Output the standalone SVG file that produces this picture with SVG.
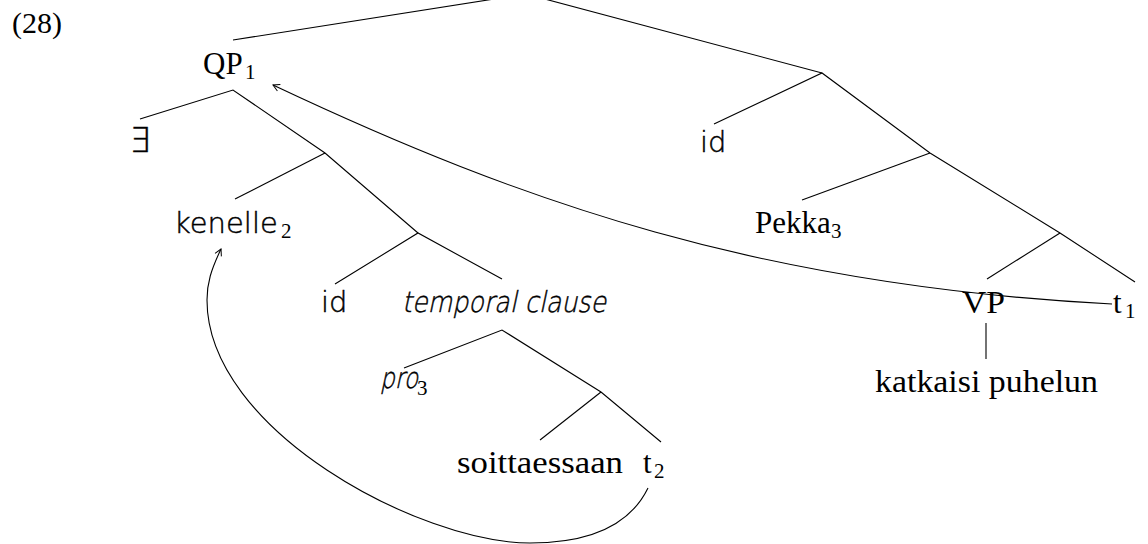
<svg xmlns="http://www.w3.org/2000/svg" width="1148" height="544" viewBox="0 0 1148 544">
<defs>
<style>
.rm{font-family:"Liberation Serif","Times New Roman",serif;font-size:31px;fill:#000}
.sub{font-family:"Liberation Serif","Times New Roman",serif;font-size:21px;fill:#000}
.sf{font-family:"DejaVu Sans","Liberation Sans",sans-serif;font-size:29px;font-weight:200;fill:#000;stroke:#000;stroke-width:0.45}
.ln{stroke:#000;stroke-width:1.1;fill:none}
</style>
<marker id="ah" viewBox="-8 -5 10 10" markerWidth="10" markerHeight="10" refX="0" refY="0" orient="auto" markerUnits="userSpaceOnUse">
<path d="M-6.5,-3.5 L0,0 L-6.5,3.5" fill="none" stroke="#000" stroke-width="1"/>
</marker>
</defs>
<rect width="1148" height="544" fill="#fff"/>
<text class="rm" x="12" y="33" style="font-size:30px">(28)</text>
<g id="connectors">
<path class="ln" d="M233,40 L526,-6 L822,73"/>
<path class="ln" d="M140,119 L233,90 L325,153 L418,233"/>
<path class="ln" d="M235,199 L325,153"/>
<path class="ln" d="M335,284 L418,233 L502,279"/>
<path class="ln" d="M404,368 L502,330 L601,392 L661,442"/>
<path class="ln" d="M540,440 L601,392"/>
<path class="ln" d="M714,124 L822,73 L930,153 L1060,233 L1135,282"/>
<path class="ln" d="M802,200 L930,153"/>
<path class="ln" d="M987,279 L1060,233"/>
<path class="ln" d="M986,323 L986,359"/>
<path class="ln" d="M1112,304 C762,286 523,203 273,85" marker-end="url(#ah)"/>
<path class="ln" d="M648,488 C630,525 590,543 530,543 C420,543 207,430 207,300 C207,283 211,270 221,249" marker-end="url(#ah)"/>
</g>
<g id="n-qp"><text class="rm" x="203" y="74">QP</text><text class="sub" x="245" y="79">1</text></g>
<g id="n-exists"><text class="sf" x="129" y="152" style="font-size:34px">∃</text></g>
<g id="n-kenelle"><text class="sf" x="174" y="233">kenelle</text><text class="sub" x="281" y="238">2</text></g>
<g id="n-id1"><text class="sf" x="321" y="312">id</text></g>
<g id="n-temporal"><g transform="translate(402,312) skewX(-12)"><text class="sf" x="0" y="0" textLength="204" lengthAdjust="spacingAndGlyphs">temporal clause</text></g></g>
<g id="n-pro"><g transform="translate(380,388) skewX(-12)"><text class="sf" x="0" y="0" textLength="38" lengthAdjust="spacingAndGlyphs">pro</text></g><text class="sub" x="417" y="395">3</text></g>
<g id="n-soitt"><text class="rm" x="457" y="473" textLength="166" lengthAdjust="spacingAndGlyphs">soittaessaan</text></g>
<g id="n-t2"><text class="rm" x="643" y="473">t</text><text class="sub" x="654" y="478">2</text></g>
<g id="n-id2"><text class="sf" x="700" y="152">id</text></g>
<g id="n-pekka"><text class="rm" x="755" y="233">Pekka</text><text class="sub" x="831" y="238">3</text></g>
<g id="n-vp"><text class="rm" x="962" y="313" textLength="43" lengthAdjust="spacingAndGlyphs">VP</text></g>
<g id="n-t1"><text class="rm" x="1113" y="313">t</text><text class="sub" x="1125" y="318">1</text></g>
<g id="n-katk"><text class="rm" x="875" y="392" textLength="223" lengthAdjust="spacingAndGlyphs">katkaisi puhelun</text></g>
</svg>
